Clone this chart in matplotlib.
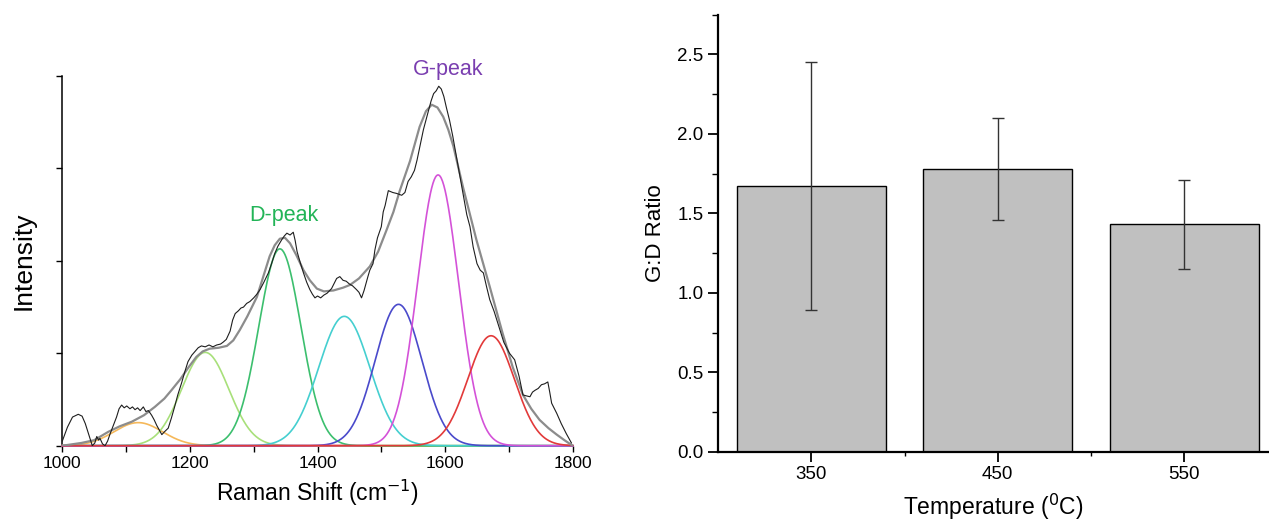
import numpy as np
import matplotlib
matplotlib.use('Agg')
import matplotlib.pyplot as plt
from matplotlib.ticker import MultipleLocator

plt.rcParams['font.family'] = ['Liberation Sans', 'DejaVu Sans']

# raw Raman spectrum
shift = [1000, 1008, 1016, 1025, 1031, 1036, 1041, 1047, 1051, 1054, 1057, 1059, 1063, 1067,
         1071, 1075, 1080, 1085, 1089, 1093, 1097, 1101, 1106, 1110, 1114, 1118, 1122, 1127,
         1131, 1135, 1140, 1144, 1148, 1152, 1156, 1160, 1166, 1171, 1176, 1181, 1187, 1192,
         1197, 1203, 1208, 1213, 1218, 1224, 1230, 1236, 1242, 1248, 1252, 1257, 1263, 1267,
         1271, 1276, 1280, 1284, 1289, 1294, 1300, 1305, 1310, 1316, 1323, 1328, 1333, 1338,
         1344, 1348, 1352, 1357, 1362, 1365, 1368, 1373, 1378, 1383, 1388, 1392, 1396, 1400,
         1405, 1410, 1415, 1422, 1430, 1435, 1440, 1445, 1450, 1455, 1461, 1465, 1469, 1473,
         1479, 1482, 1487, 1490, 1494, 1500, 1503, 1506, 1511, 1518, 1524, 1532, 1537, 1542,
         1547, 1552, 1556, 1560, 1566, 1573, 1578, 1582, 1586, 1590, 1594, 1598, 1602, 1607,
         1612, 1618, 1623, 1628, 1634, 1639, 1644, 1650, 1655, 1660, 1665, 1670, 1677, 1686,
         1692, 1701, 1709, 1716, 1722, 1727, 1733, 1737, 1741, 1746, 1751, 1756, 1761, 1764,
         1767, 1775, 1782, 1790, 1798]
intensity = [0.05, 0.20, 0.31, 0.34, 0.32, 0.24, 0.13, 0.00, 0.03, 0.10, 0.06, 0.08, 0.02, 0.00,
             0.05, 0.13, 0.22, 0.31, 0.40, 0.44, 0.41, 0.43, 0.40, 0.42, 0.39, 0.41, 0.38, 0.42,
             0.37, 0.38, 0.33, 0.28, 0.22, 0.17, 0.12, 0.15, 0.19, 0.30, 0.42, 0.55, 0.68, 0.80,
             0.91, 0.98, 1.02, 1.06, 1.08, 1.07, 1.09, 1.07, 1.09, 1.10, 1.12, 1.15, 1.24, 1.36,
             1.43, 1.46, 1.49, 1.50, 1.54, 1.56, 1.60, 1.64, 1.69, 1.77, 1.87, 1.97, 2.08, 2.16,
             2.23, 2.27, 2.30, 2.28, 2.31, 2.22, 2.10, 1.98, 1.87, 1.77, 1.69, 1.64, 1.60, 1.62,
             1.60, 1.63, 1.65, 1.70, 1.81, 1.83, 1.79, 1.78, 1.75, 1.73, 1.69, 1.66, 1.60, 1.68,
             1.83, 1.90, 1.97, 2.12, 2.25, 2.37, 2.53, 2.60, 2.76, 2.74, 2.73, 2.71, 2.74, 2.86,
             2.91, 2.98, 3.09, 3.22, 3.42, 3.60, 3.73, 3.81, 3.84, 3.89, 3.86, 3.78, 3.66, 3.52,
             3.35, 3.12, 2.93, 2.73, 2.50, 2.37, 2.15, 1.97, 1.90, 1.87, 1.72, 1.58, 1.45, 1.25,
             1.12, 1.00, 0.93, 0.75, 0.55, 0.54, 0.53, 0.58, 0.60, 0.62, 0.66, 0.67, 0.69, 0.58,
             0.46, 0.35, 0.24, 0.13, 0.03]

# cumulative fit envelope
fit_shift = [1000, 1030, 1050, 1072, 1090, 1109, 1128, 1145, 1160, 1171, 1185, 1198, 1210, 1220,
             1231, 1245, 1258, 1268, 1278, 1290, 1305, 1315, 1325, 1333, 1341, 1349, 1357, 1367,
             1378, 1388, 1399, 1410, 1425, 1440, 1451, 1465, 1482, 1495, 1508, 1519, 1529, 1545,
             1560, 1570, 1579, 1588, 1597, 1605, 1613, 1628, 1649, 1670, 1690, 1706, 1722, 1735,
             1748, 1762, 1775, 1787, 1800]
fit_int = [0.00, 0.03, 0.06, 0.15, 0.21, 0.26, 0.33, 0.42, 0.51, 0.60, 0.72, 0.85, 0.96, 1.02,
           1.05, 1.06, 1.08, 1.14, 1.25, 1.40, 1.61, 1.83, 2.05, 2.17, 2.24, 2.25, 2.19, 2.06,
           1.90, 1.79, 1.70, 1.67, 1.68, 1.71, 1.74, 1.81, 1.94, 2.10, 2.33, 2.53, 2.76, 3.08,
           3.45, 3.62, 3.69, 3.66, 3.56, 3.42, 3.24, 2.80, 2.23, 1.72, 1.22, 0.85, 0.55, 0.40,
           0.28, 0.19, 0.12, 0.06, 0.00]

# fitted Gaussian components
peak_center = [1119, 1224, 1341, 1442, 1527, 1589, 1672]
peak_height = [0.25, 1.01, 2.13, 1.40, 1.53, 2.93, 1.19]
peak_sigma = [38, 37, 33, 40, 36.5, 32, 36.5]
peak_color = ['#f5b85a', '#a8e07a', '#3cbf6e', '#45cfd0', '#4a4acb', '#d452d8', '#e23a3a']

# G:D ratio bars
temps = ['350', '450', '550']
gd_ratio = [1.67, 1.78, 1.43]
gd_err = [0.78, 0.32, 0.28]

fig = plt.figure(figsize=(12.69, 5.21), dpi=100)

# ---- left: Raman spectrum ----
ax1 = fig.add_axes([0.0491, 0.1445, 0.4022, 0.7095])
xs = np.linspace(1000, 1800, 801)
for c, h, s, col in zip(peak_center, peak_height, peak_sigma, peak_color):
    ax1.plot(xs, h * np.exp(-(xs - c) ** 2 / (2 * s ** 2)), color=col, lw=1.2, zorder=3, clip_on=False)
ax1.plot(fit_shift, fit_int, color='#8c8c8c', lw=1.6, zorder=4)
ax1.plot(shift, intensity, color='#1e1e1e', lw=0.8, zorder=5)

ax1.set_xlim(1000, 1800)
ax1.set_ylim(0, 4)
ax1.xaxis.set_major_locator(MultipleLocator(200))
ax1.xaxis.set_minor_locator(MultipleLocator(100))
ax1.yaxis.set_major_locator(MultipleLocator(1))
ax1.set_yticklabels([])
ax1.tick_params(axis='both', which='both', direction='out', length=4, width=1, labelsize=12.5)
for side in ['top', 'right']:
    ax1.spines[side].set_visible(False)
for side in ['left', 'bottom']:
    ax1.spines[side].set_linewidth(1.1)
ax1.set_xlabel('Raman Shift (cm$^{-1}$)', fontsize=16.5, labelpad=5)
ax1.set_ylabel('Intensity', fontsize=19, labelpad=12)
ax1.text(1347, 2.49, 'D-peak', color='#22b457', fontsize=15.5, ha='center', va='center')
ax1.text(1604, 4.07, 'G-peak', color='#7a3eb0', fontsize=15.5, ha='center', va='center', clip_on=False)

# ---- right: G:D ratio ----
ax2 = fig.add_axes([0.5658, 0.133, 0.4342, 0.8388])
pos = np.arange(len(temps))
ax2.bar(pos, gd_ratio, width=0.8, color='#c0c0c0', edgecolor='black', linewidth=1,
        yerr=gd_err, error_kw=dict(ecolor='#333333', elinewidth=1, capsize=4, capthick=1))
ax2.set_xlim(-0.5, 2.454)
ax2.set_ylim(0, 2.75)
ax2.set_xticks(pos)
ax2.set_xticklabels(temps)
ax2.set_xticks([0.5, 1.5], minor=True)
ax2.yaxis.set_major_locator(MultipleLocator(0.5))
ax2.yaxis.set_minor_locator(MultipleLocator(0.25))
ax2.yaxis.set_major_formatter(matplotlib.ticker.FormatStrFormatter('%.1f'))
ax2.tick_params(axis='both', which='major', direction='out', length=7, width=1.3, labelsize=13.5)
ax2.tick_params(axis='y', which='minor', direction='out', length=4, width=1)
ax2.tick_params(axis='x', which='minor', direction='out', length=3, width=1)
for side in ['top', 'right']:
    ax2.spines[side].set_visible(False)
for side in ['left', 'bottom']:
    ax2.spines[side].set_linewidth(1.6)
ax2.set_xlabel('Temperature ($^{0}$C)', fontsize=16.5, labelpad=6)
ax2.set_ylabel('G:D Ratio', fontsize=16, labelpad=8)

fig.savefig('out.png', dpi=100)
